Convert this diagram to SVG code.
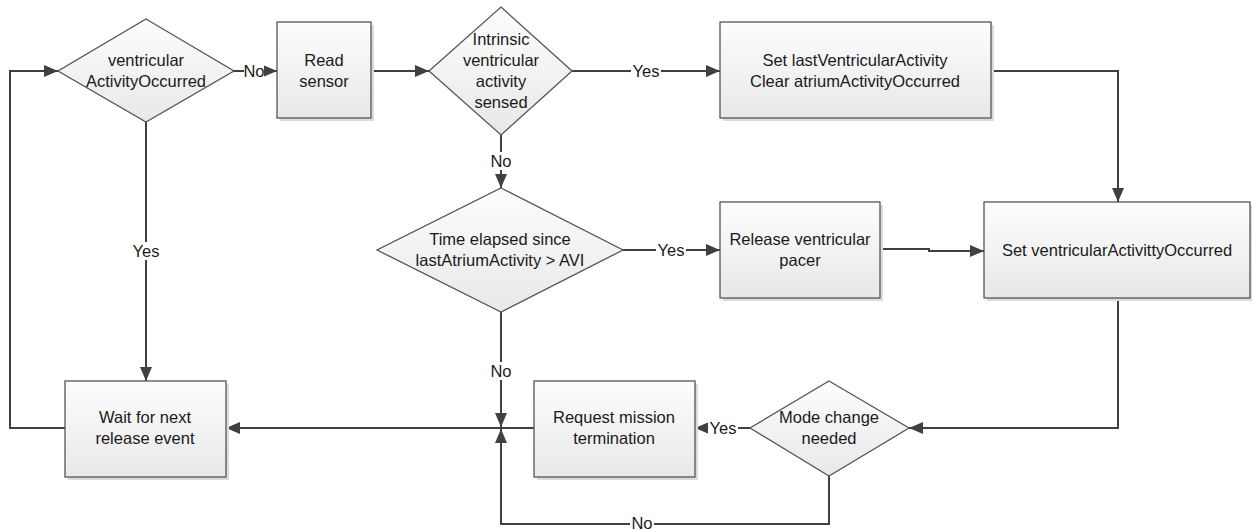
<svg xmlns="http://www.w3.org/2000/svg" width="1252" height="530" viewBox="0 0 1252 530">
<style>
  .box { fill: url(#g); stroke: #555555; stroke-width: 1.3; }
  .shadow { fill: #dcdcdc; }
  .t { font-family: "Liberation Sans", Arial, sans-serif; font-size: 16.5px; fill: #1a1a1a; text-anchor: middle; }
  .c { fill: none; stroke: #404040; stroke-width: 2; }
  .lbg { fill: #ffffff; }
</style>
<defs>
  <linearGradient id="g" x1="0" y1="0" x2="0" y2="1">
    <stop offset="0" stop-color="#fdfdfd"/>
    <stop offset="1" stop-color="#e8e8e8"/>
  </linearGradient>
  <marker id="a" markerUnits="userSpaceOnUse" markerWidth="14" markerHeight="12" viewBox="0 0 14 12" refX="14" refY="6" orient="auto">
    <path d="M0,0 L14,6 L0,12 Z" fill="#404040"/>
  </marker>
</defs>

<g id="connectors">
  <path class="c" d="M65,428 H10 V71 H58" marker-end="url(#a)"/>
  <path class="c" d="M232,71 H277" marker-end="url(#a)"/>
  <path class="c" d="M371,71 H429" marker-end="url(#a)"/>
  <path class="c" d="M572,71 H720" marker-end="url(#a)"/>
  <path class="c" d="M991,71 H1118 V202" marker-end="url(#a)"/>
  <path class="c" d="M501,135 V188" marker-end="url(#a)"/>
  <path class="c" d="M623,250 H720" marker-end="url(#a)"/>
  <path class="c" d="M880,249 H929 V251 H984" marker-end="url(#a)"/>
  <path class="c" d="M1118,298 V428 H909" marker-end="url(#a)"/>
  <path class="c" d="M750,428 H695" marker-end="url(#a)"/>
  <path class="c" d="M829,476 V524 H501 V429" marker-end="url(#a)"/>
  <path class="c" d="M501,312 V427" marker-end="url(#a)"/>
  <path class="c" d="M534,428 H226" marker-end="url(#a)"/>
  <path class="c" d="M146,122 V381" marker-end="url(#a)"/>
  <g id="labels">
    <rect class="lbg" x="244" y="62" width="20" height="18"/>
    <text class="t" x="254" y="77">No</text>
    <rect class="lbg" x="631" y="62" width="30" height="18"/>
    <text class="t" x="646" y="77">Yes</text>
    <rect class="lbg" x="491" y="152" width="20" height="18"/>
    <text class="t" x="501" y="167">No</text>
    <rect class="lbg" x="656" y="241" width="30" height="18"/>
    <text class="t" x="671" y="256">Yes</text>
    <rect class="lbg" x="491" y="362" width="20" height="18"/>
    <text class="t" x="501" y="377">No</text>
    <rect class="lbg" x="708" y="419" width="30" height="18"/>
    <text class="t" x="723" y="434">Yes</text>
    <rect class="lbg" x="630" y="514" width="24" height="16"/>
    <text class="t" x="642" y="529">No</text>
    <rect class="lbg" x="131" y="242" width="30" height="18"/>
    <text class="t" x="146" y="257">Yes</text>
  </g>
</g>

<g id="d1">
  <path class="box" d="M146,19 L234,71 L146,122 L58,71 Z"/>
  <text class="t" x="146" y="66">ventricular</text>
  <text class="t" x="146" y="87">ActivityOccurred</text>
</g>

<g id="readSensor">
  <rect class="shadow" x="280" y="25" width="94" height="96"/>
  <rect class="box" x="277" y="22" width="94" height="96"/>
  <text class="t" x="324" y="66">Read</text>
  <text class="t" x="324" y="87">sensor</text>
</g>

<g id="d2">
  <path class="box" d="M501,7 L572,71 L501,135 L429,71 Z"/>
  <text class="t" x="501" y="45">Intrinsic</text>
  <text class="t" x="501" y="66">ventricular</text>
  <text class="t" x="501" y="87">activity</text>
  <text class="t" x="501" y="108">sensed</text>
</g>

<g id="setLast">
  <rect class="shadow" x="723" y="25" width="271" height="96"/>
  <rect class="box" x="720" y="22" width="271" height="96"/>
  <text class="t" x="855" y="66">Set lastVentricularActivity</text>
  <text class="t" x="855" y="87">Clear atriumActivityOccurred</text>
</g>

<g id="d3">
  <path class="box" d="M501,188 L623,250 L501,312 L377,250 Z"/>
  <text class="t" x="500" y="245">Time elapsed since</text>
  <text class="t" x="500" y="266">lastAtriumActivity &gt; AVI</text>
</g>

<g id="release">
  <rect class="shadow" x="723" y="205" width="160" height="96"/>
  <rect class="box" x="720" y="202" width="160" height="96"/>
  <text class="t" x="800" y="245">Release ventricular</text>
  <text class="t" x="800" y="266">pacer</text>
</g>

<g id="setVAO">
  <rect class="shadow" x="987" y="205" width="267" height="96"/>
  <rect class="box" x="984" y="202" width="266" height="96"/>
  <text class="t" x="1117" y="256">Set ventricularActivittyOccurred</text>
</g>

<g id="wait">
  <rect class="shadow" x="68" y="384" width="161" height="96"/>
  <rect class="box" x="65" y="381" width="161" height="96"/>
  <text class="t" x="145" y="423">Wait for next</text>
  <text class="t" x="145" y="444">release event</text>
</g>

<g id="request">
  <rect class="shadow" x="537" y="384" width="161" height="96"/>
  <rect class="box" x="534" y="381" width="161" height="96"/>
  <text class="t" x="614" y="423">Request mission</text>
  <text class="t" x="614" y="444">termination</text>
</g>

<g id="d4">
  <path class="box" d="M829,381 L909,428 L829,476 L750,428 Z"/>
  <text class="t" x="829" y="423">Mode change</text>
  <text class="t" x="829" y="444">needed</text>
</g>
</svg>
